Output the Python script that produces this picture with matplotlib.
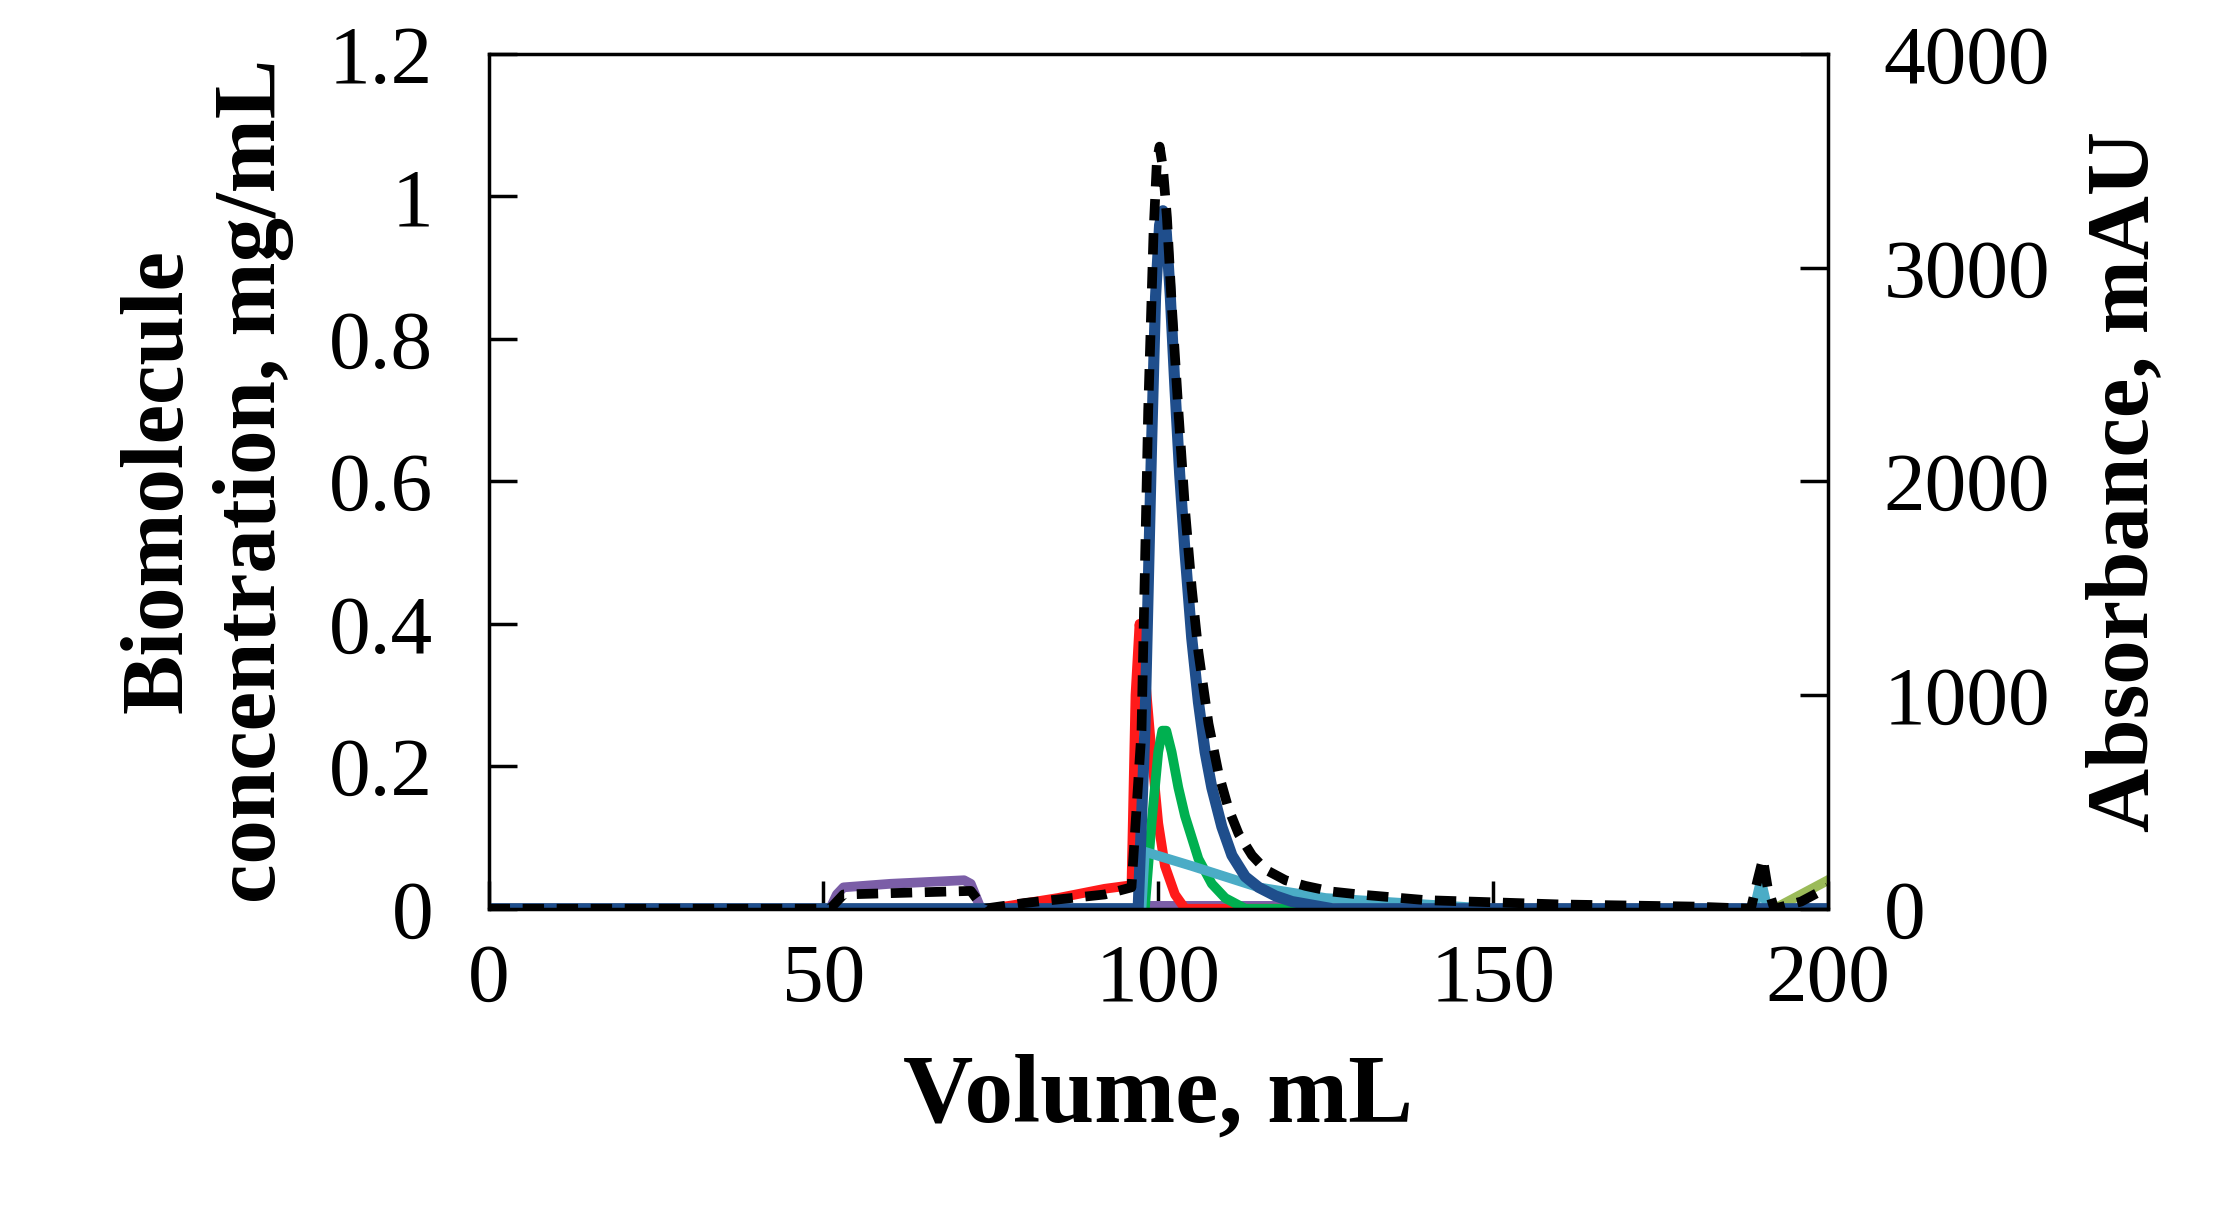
import numpy as np
import matplotlib.pyplot as plt

plt.rcParams['font.family'] = ['Liberation Serif', 'DejaVu Serif']

# Volume (mL) / concentration (mg/mL) points
purple_x = [0, 51, 52, 53, 60, 71, 72, 73.5, 97, 98, 120, 122, 200]
purple_y = [0, 0, 0.02, 0.03, 0.035, 0.04, 0.035, 0, 0, 0.004, 0.004, 0, 0]
red_x = [0, 75, 85, 92, 96, 96.6, 97.2, 98, 99, 100, 101, 102.5, 104, 200]
red_y = [0, 0, 0.015, 0.028, 0.033, 0.3, 0.4, 0.33, 0.22, 0.12, 0.06, 0.02, 0, 0]
green_x = [0, 98, 99, 100, 100.6, 101.2, 102, 103, 104, 106, 108, 110, 113, 200]
green_y = [0, 0, 0.12, 0.22, 0.25, 0.25, 0.22, 0.17, 0.13, 0.07, 0.035, 0.015, 0, 0]
teal_x = [0, 97.5, 98, 105, 110, 115, 125, 140, 150, 189, 190, 191, 200]
teal_y = [0, 0, 0.08, 0.06, 0.045, 0.03, 0.015, 0.006, 0, 0, 0.04, 0, 0]
blue_x = [0, 97, 98, 99, 99.6, 100.2, 100.7, 101.2, 101.8, 102.5, 103.2, 104, 105, 106, 107, 108,
          109.5, 111, 113, 115, 117.5, 120, 126, 200]
blue_y = [0, 0, 0.25, 0.65, 0.86, 0.96, 0.98, 0.95, 0.86, 0.73, 0.61, 0.5, 0.38, 0.29, 0.22, 0.17,
          0.115, 0.075, 0.045, 0.03, 0.018, 0.01, 0, 0]
olive_x = [192, 196, 200]
olive_y = [0, 0.02, 0.04]
# absorbance trace expressed on the concentration scale
abs_x = [0, 51, 53, 72, 74, 80, 92, 96, 97.5, 98.5, 99.3, 99.8, 100.2, 100.7, 101.3, 102, 103, 104,
         105, 106, 107.5, 109, 110.5, 112, 114, 116, 119, 122, 126, 130, 140, 160, 180, 188.5,
         189.5, 190.3, 191, 192, 196, 200]
abs_y = [0, 0, 0.02, 0.025, 0, 0.008, 0.02, 0.03, 0.25, 0.7, 0.95, 1.05, 1.07, 1.04, 0.97, 0.85,
         0.7, 0.56, 0.45, 0.36, 0.26, 0.19, 0.14, 0.105, 0.075, 0.055, 0.04, 0.032, 0.024, 0.02,
         0.012, 0.006, 0.003, 0, 0.04, 0.07, 0.03, 0, 0.01, 0.03]

fig = plt.figure(figsize=(22.21, 12.28), dpi=100)
ax = fig.add_axes([0.220, 0.260, 0.603, 0.696])
lw = 7
ax.plot(purple_x, purple_y, color='#7b5ea7', lw=lw)
ax.plot(red_x, red_y, color='#ff1a1a', lw=lw)
ax.plot(green_x, green_y, color='#00b050', lw=lw)
ax.plot(teal_x, teal_y, color='#4bacc6', lw=lw)
ax.plot(olive_x, olive_y, color='#9bbb59', lw=lw)
ax.plot(blue_x, blue_y, color='#1f4e8c', lw=lw + 1)
ax.plot(abs_x, abs_y, color='black', lw=lw, ls=(0, (2.2, 1.3)))
ax.plot([0, 200], [0, 0], color='#1f4e8c', lw=lw, zorder=1)

ax.set_xlim(0, 200)
ax.set_ylim(0, 1.2)
ax.set_xticks([0, 50, 100, 150, 200])
ax.set_yticks([0, 0.2, 0.4, 0.6, 0.8, 1.0, 1.2])
ax.set_yticklabels(['0', '0.2', '0.4', '0.6', '0.8', '1', '1.2'])
ax.tick_params(direction='in', length=20, width=2.5, labelsize=60)
ax.tick_params(axis='y', pad=40)
ax.tick_params(axis='x', pad=25)
for s in ax.spines.values():
    s.set_linewidth(2.5)
ax.set_xlabel('Volume, mL', fontsize=70, fontweight='bold', labelpad=25)
ax.set_ylabel('Biomolecule\nconcentration, mg/mL', fontsize=64, fontweight='bold', labelpad=25)

ax2 = ax.twinx()
ax2.set_ylim(0, 4000)
ax2.set_yticks([0, 1000, 2000, 3000, 4000])
ax2.tick_params(direction='in', length=20, width=2.5, labelsize=60, pad=40)
ax2.set_ylabel('Absorbance, mAU', fontsize=64, fontweight='bold', labelpad=25)

fig.savefig('out.png', dpi=100)
